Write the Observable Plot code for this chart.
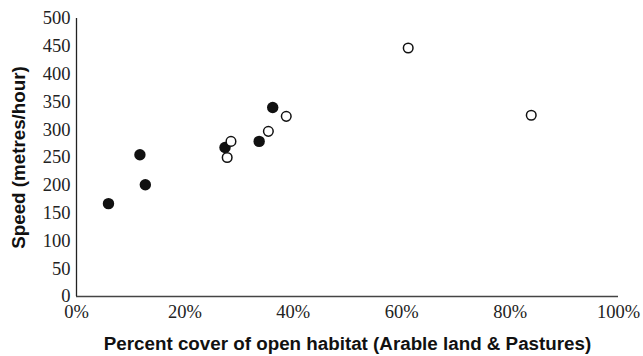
<!DOCTYPE html>
<html>
<head>
<meta charset="utf-8">
<script src="https://cdn.jsdelivr.net/npm/d3@7"></script>
<script src="https://cdn.jsdelivr.net/npm/@observablehq/plot@0.6"></script>
<style>
  html, body { margin: 0; padding: 0; background: #fff; }
</style>
</head>
<body>
<div id="chart"></div>
<script>
const filledX = [5.9, 11.7, 12.7, 27.4, 33.7, 36.2];
const filledY = [167, 255, 201, 268, 279, 340];
const openX = [28.5, 27.8, 35.4, 38.7, 61.2, 83.9];
const openY = [279, 250, 297, 324, 447, 326];
const xTicks = [0, 20, 40, 60, 80, 100];
const yTicks = [0, 50, 100, 150, 200, 250, 300, 350, 400, 450, 500];

const filled = filledX.map((x, i) => ({x, y: filledY[i]}));
const open = openX.map((x, i) => ({x, y: openY[i]}));

const chart = Plot.plot({
  width: 643,
  height: 356,
  marginLeft: 76,
  marginRight: 25,
  marginTop: 18,
  marginBottom: 60,
  style: {background: "#fff", color: "#111", fontSize: "18.5px", fontFamily: "Liberation Serif"},
  x: {domain: [0, 100]},
  y: {domain: [0, 500]},
  marks: [
    Plot.axisX({ticks: xTicks, tickSize: 0, tickPadding: 8, tickFormat: d => d + "%",
      fontFamily: "Liberation Serif", fontSize: 18.5, fill: "#222", label: null}),
    Plot.axisY({ticks: yTicks, tickSize: 0, tickPadding: 6,
      fontFamily: "Liberation Serif", fontSize: 18.5, fill: "#222", label: null}),
    Plot.ruleY([0], {stroke: "#444", strokeWidth: 1.3}),
    Plot.ruleX([0], {stroke: "#222", strokeWidth: 1.3}),
    Plot.dot(filled, {x: "x", y: "y", r: 5.7, fill: "#111", stroke: "none"}),
    Plot.dot(open, {x: "x", y: "y", r: 4.8, fill: "#fff", stroke: "#111", strokeWidth: 1.5}),
    Plot.text(["Percent cover of open habitat (Arable land & Pastures)"], {
      frameAnchor: "bottom", dy: 47, lineAnchor: "middle", fontFamily: "Liberation Sans", fontWeight: "bold",
      fontSize: 18.8, fill: "#111"}),
    Plot.text(["Speed (metres/hour)"], {
      frameAnchor: "left", dx: -58, rotate: -90, textAnchor: "middle", lineAnchor: "middle",
      fontFamily: "Liberation Sans", fontWeight: "bold", fontSize: 18.8, fill: "#111"})
  ]
});
document.getElementById("chart").appendChild(chart);
</script>
</body>
</html>
